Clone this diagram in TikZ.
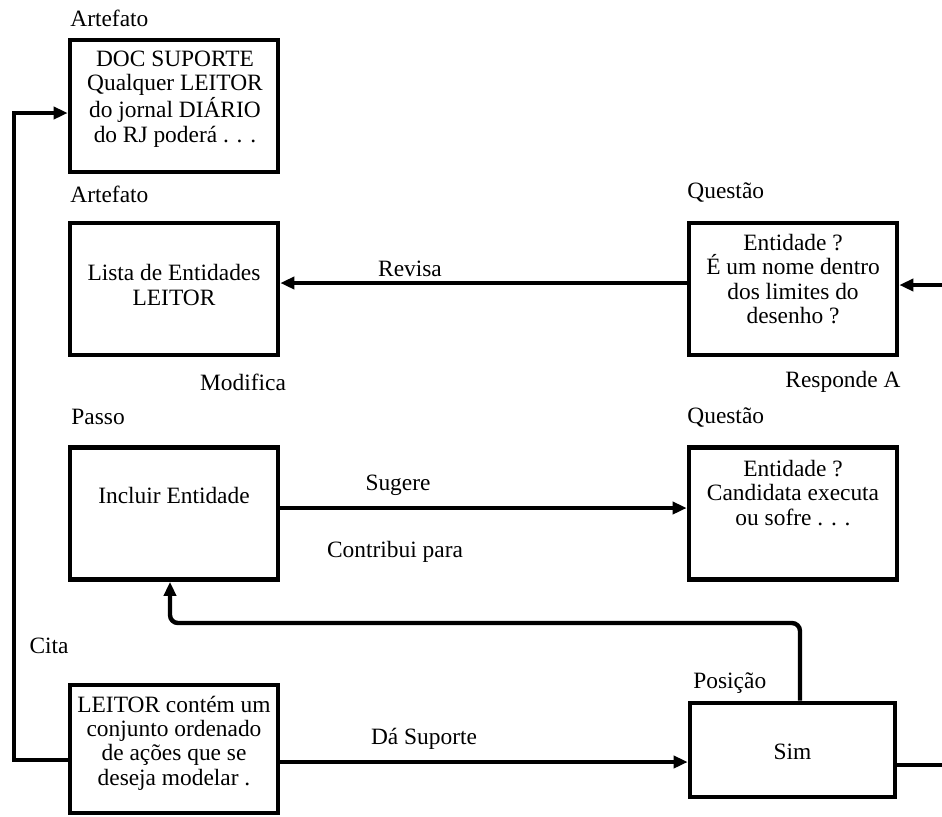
\documentclass[tikz,border=0pt]{standalone}
\usepackage{fontspec}
\setmainfont{Liberation Serif}
\usetikzlibrary{arrows.meta}
\begin{document}
\begin{tikzpicture}[x=0.5pt,y=-0.5pt,
  font=\fontsize{11.7}{12.2}\selectfont,
  box/.style={draw, line width=2.3pt, minimum width=104pt, minimum height=66pt, inner sep=0pt},
  txt/.style={align=center, inner sep=0pt},
  lbl/.style={inner sep=0pt, anchor=west},
  conn/.style={line width=2.2pt},
  arr/.style={conn, -{Triangle[length=7pt,width=6pt]}}]
\useasboundingbox (0,0) rectangle (942,816);
% boxes
\node[box] (b1) at (174,106) {};
\node[box] (b2) at (174,289) {};
\node[box] (b3) at (793,289) {};
\node[box] (b4) at (174,513.5) {};
\node[box] (b6) at (793,513.5) {};
\node[box, minimum height=64pt] (b5) at (174,749) {};
\node[box, minimum width=102.5pt, minimum height=47pt] (sim) at (792.5,750) {};
% box texts
\node[txt] (t1) at (175,99) {DOC SUPORTE\\ Qualquer LEITOR\\ do jornal DIÁRIO\\ do RJ poderá . . .};
\node[txt] (t2) at (174,285) {Lista de Entidades\\ LEITOR};
\node[txt] (t3) at (793,279) {Entidade ?\\ É um nome dentro\\ dos limites do\\ desenho ?};
\node[txt] (t4) at (174,495) {Incluir Entidade};
\node[txt] (t6) at (793,493) {Entidade ?\\ Candidata executa\\ ou sofre . . .};
\node[txt] (t5) at (174,743) {LEITOR contém um\\ conjunto ordenado\\ de ações que se\\ deseja modelar .};
\node[txt] (t7) at (792.5,752) {Sim};
% type labels
\node[lbl] (l1) at (70,18) {Artefato};
\node[lbl] (l2) at (70,194) {Artefato};
\node[lbl] (l3) at (687,193) {Questão};
\node[lbl] (l4) at (71,417) {Passo};
\node[lbl] (l6) at (687,417) {Questão};
\node[lbl] (l7) at (693,683) {Posição};
% connector labels
\node[txt] (r1) at (410,269) {Revisa};
\node[txt] (r2) at (243,382) {Modifica};
\node[txt] (r3) at (843,382) {Responde A};
\node[txt] (r4) at (398,485) {Sugere};
\node[txt] (r5) at (395,552) {Contribui para};
\node[txt] (r6) at (49,646) {Cita};
\node[txt] (r7) at (424,739) {Dá Suporte};
% coordinates
\coordinate (c1) at (14,760);
\coordinate (c2) at (14,113);
\coordinate (rv) at (500,283);
\coordinate (rin) at (942,285);
\coordinate (sg) at (500,508);
\coordinate (ds) at (500,762);
\coordinate (sout) at (942,765);
\coordinate (k1) at (800,623);
\coordinate (k2) at (170,623);
% connectors
\draw[arr] (b5.west |- c1) -- (c1) -- (c2) -- (b1.west |- c2);
\draw[arr] (b3.west |- rv) -- (b2.east |- rv);
\draw[arr] (rin) -- (b3.east |- rin);
\draw[arr] (b4.east |- sg) -- (b6.west |- sg);
\draw[arr] (b5.east |- ds) -- (sim.west |- ds);
\draw[conn] (sim.east |- sout) -- (sout);
\draw[arr, rounded corners=4pt] (sim.north -| k1) -- (k1) -- (k2) -- (b4.south -| k2);
\end{tikzpicture}
\end{document}
